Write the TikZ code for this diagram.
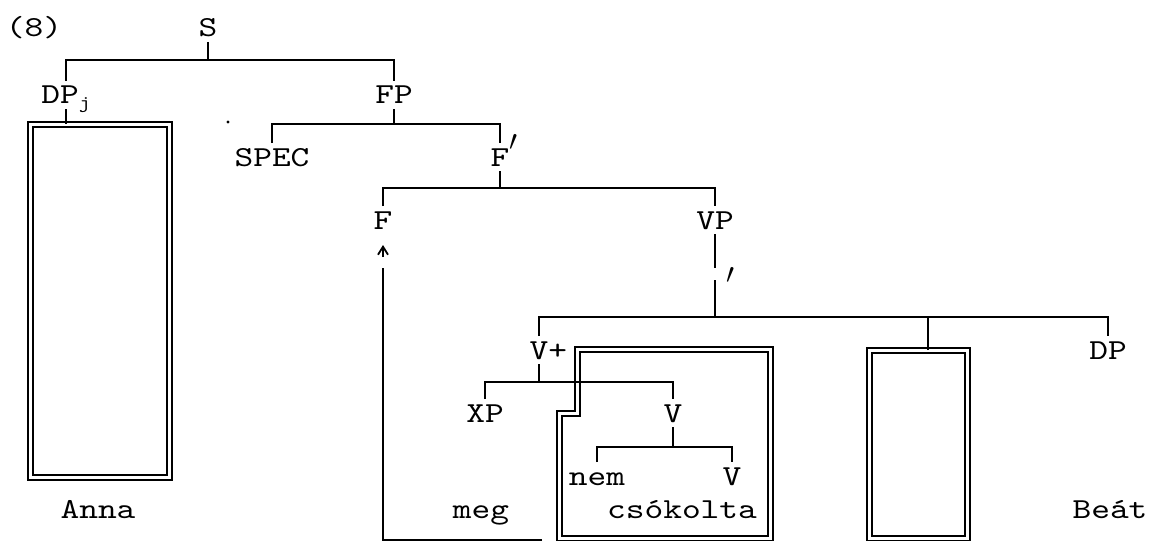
\documentclass[tikz,border=0pt]{standalone}
\usepackage{fontspec}
\setmonofont{lmmono10-regular.otf}[FakeStretch=1.23]
\usetikzlibrary{arrows.meta}
\newcommand{\treefont}{\fontsize{14.5}{17}\selectfont\ttfamily}
\newcommand{\barmark}{{\fontsize{20}{20}\selectfont$'$}}
\tikzset{
  cat/.style={inner sep=0pt,outer sep=2.5pt,text height=9pt,text depth=0pt,font=\treefont},
  word/.style={inner sep=0pt,text height=9pt,text depth=0pt,font=\treefont},
  branch/.style={line width=0.9pt},
  dbox/.style={draw,double,line width=1pt,double distance=1.5pt,inner sep=0pt,outer sep=0pt},
  arr/.style={-{Straight Barb[length=4pt,width=5pt]},line width=0.9pt},
}

\begin{document}
\begin{tikzpicture}[x=0.5pt,y=-0.5pt]
\useasboundingbox (0,0) rectangle (1154,540);
% categories
\node[word] (num) at (34,28) {(8)};
\node[cat] (S) at (208,28) {S};
\node[cat] (DPj) at (66,95) {DP\raisebox{-0.4ex}{\fontsize{9}{9}\selectfont j}};
\node[cat] (FP) at (394,95) {FP};
\node[cat] (SPEC) at (272,157) {SPEC};
\node[cat] (Fbar) at (500,157) {F\rlap{\barmark}};
\node[cat] (F) at (383,220) {F};
\node[cat] (VP) at (715,220) {VP};
\node[word] (vpbar) at (731,290) {\barmark};
\node[cat] (Vplus) at (539,350) {V\rlap{+}};
\node[cat] (DP) at (1108,350) {DP};
\node[cat] (XP) at (485,413) {XP};
\node[cat] (Vup) at (673,413) {V};
\node[cat] (nem) at (597,476) {nem};
\node[cat] (Vlow) at (732,476) {V};
% words
\node[word] (anna) at (98,509) {Anna};
\node[word] (meg) at (481,509) {meg};
\node[word] (csok) at (682,509) {csókolta};
\node[word] (beat) at (1110,509) {Beát};
% boxes
\node[dbox,minimum width=69.5pt,minimum height=176.5pt] (annabox) at (100,300.5) {};
\node[dbox,minimum width=49.25pt,minimum height=94.25pt] (bbox) at (918.25,444.25) {};
\draw[dbox] (559,538) -- (559,413) -- (577,413) -- (577,349.5) -- (770,349.5) -- (770,538) -- cycle;
\fill (228,122) circle (1.6);
% branches
\coordinate (sBar) at (S |- 0,60);
\draw[branch] (S) -- (sBar);
\draw[branch] (DPj) |- (sBar) -| (FP);
\draw[branch] (DPj) -- (DPj |- annabox.north);
\coordinate (fpBar) at (FP |- 0,124);
\draw[branch] (FP) -- (fpBar);
\draw[branch] (SPEC) |- (fpBar) -| (Fbar);
\coordinate (fbBar) at (Fbar |- 0,188);
\draw[branch] (Fbar) -- (fbBar);
\draw[branch] (F) |- (fbBar) -| (VP);
\coordinate (vpGap) at (VP |- 0,268);
\coordinate (vpLow) at (VP |- 0,280);
\coordinate (vpBar) at (VP |- 0,317);
\draw[branch] (VP) -- (vpGap);
\draw[branch] (vpLow) -- (vpBar);
\draw[branch] (Vplus) |- (vpBar) -| (DP);
\coordinate (bTop) at (928,350);
\draw[branch] (bTop) -- (bTop |- vpBar);
\coordinate (vBar) at (Vplus |- 0,382);
\draw[branch] (Vplus) -- (vBar);
\draw[branch] (XP) |- (vBar) -| (Vup);
\coordinate (vlBar) at (Vup |- 0,447);
\draw[branch] (Vup) -- (vlBar);
\draw[branch] (nem) |- (vlBar) -| (Vlow);
% movement of the verb
\coordinate (mvEnd) at (542,540);
\coordinate (mvTop) at (383,268);
\draw[branch] (mvEnd) -| (mvTop);
\coordinate (arrFoot) at (F |- 0,257);
\draw[arr,shorten >=5.5pt] (arrFoot) -- (F);
\end{tikzpicture}
\end{document}
